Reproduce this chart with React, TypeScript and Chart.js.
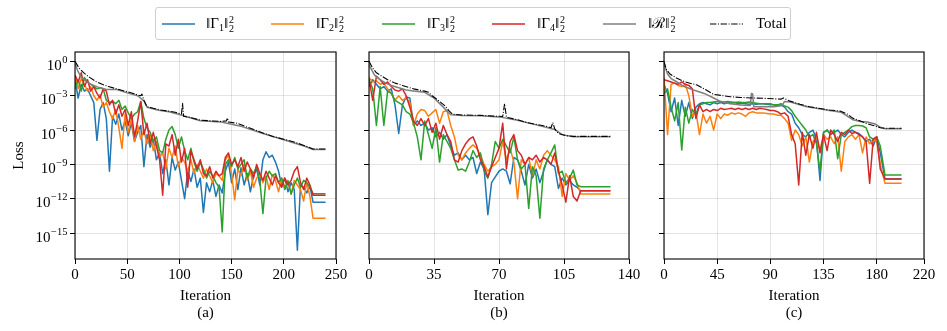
import React, { useEffect, useRef } from 'react';
import { Chart, registerables } from 'chart.js';
Chart.register(...registerables);

const FONT = '"Liberation Serif", "Times New Roman", "DejaVu Serif", serif';
const COLORS = { g1: '#1f77b4', g2: '#ff7f0e', g3: '#2ca02c', g4: '#d62728', r: '#7f7f7f', total: '#000000' };

// All loss values below are stored as log10(loss).
const Y_MIN_EXP = -17.27;
const Y_MAX_EXP = 0.82;
const Y_TICK_EXPS = [0, -3, -6, -9, -12, -15];

// ---------------- Panel (a) ----------------
const aIter = [0, 3, 6, 9, 12, 15, 18, 21, 24, 27, 30, 33, 36, 39, 42, 45, 48, 51, 54, 57, 60, 63, 66, 69, 72, 75, 78, 81, 84, 87,
  90, 93, 96, 99, 102, 105, 108, 111, 114, 117, 120, 123, 126, 129, 132, 135, 138, 141, 144, 147, 150, 153, 156, 159, 162, 165, 168, 171, 174, 177,
  180, 183, 186, 189, 192, 195, 198, 201, 204, 207, 210, 213, 216, 219, 222, 225, 228, 240];
const aG1 = [-1.6, -3.2, -2.0, -2.6, -2.4, -3.0, -3.6, -6.9, -4.2, -3.6,
  -5.0, -9.6, -4.8, -5.5, -4.6, -6.0, -5.2, -6.5, -5.4, -7.0,
  -6.2, -5.6, -9.2, -6.4, -7.5, -6.8, -8.6, -8.0, -9.8, -8.6,
  -10.8, -8.4, -9.5, -8.8, -10.4, -12.0, -9.6, -10.5, -9.4, -11.0,
  -10.2, -13.2, -10.6, -11.4, -10.4, -11.8, -10.8, -11.5, -9.6, -8.8,
  -10.6, -9.4, -11.2, -9.3, -10.8, -9.8, -11.4, -10.0, -9.4, -10.8,
  -8.6, -7.9, -8.4, -8.2, -8.8, -9.6, -10.9, -10.2, -11.4, -10.6,
  -11.2, -16.5, -10.8, -11.0, -11.5, -10.9, -12.3, -12.3];
const aG2 = [-1.2, -2.4, -1.5, -2.0, -2.6, -2.2, -3.0, -3.4, -2.9, -4.0,
  -3.6, -4.4, -5.0, -4.2, -5.8, -7.6, -4.6, -6.2, -5.0, -7.0,
  -5.6, -6.8, -6.0, -7.2, -6.4, -7.8, -7.0, -8.4, -8.0, -9.4,
  -7.6, -8.4, -7.4, -9.2, -8.4, -8.8, -9.6, -8.6, -9.8, -9.0,
  -9.6, -10.2, -9.4, -10.0, -10.6, -9.8, -10.0, -10.4, -8.6, -8.2,
  -9.8, -12.1, -9.4, -10.0, -9.0, -10.4, -9.6, -11.0, -10.2, -9.8,
  -10.6, -10.0, -11.2, -9.9, -10.4, -11.4, -10.2, -11.0, -10.6, -11.6,
  -10.4, -10.8, -11.2, -12.2, -10.6, -11.8, -13.7, -13.7];
const aG3 = [-2.4, -1.6, -2.6, -1.4, -1.8, -2.0, -2.2, -2.4, -2.3, -2.4,
  -3.4, -3.6, -3.5, -3.7, -3.4, -4.2, -3.9, -4.5, -5.0, -4.6,
  -4.4, -3.5, -5.0, -5.8, -6.2, -7.0, -6.6, -7.8, -8.0, -6.8,
  -6.0, -5.7, -6.4, -7.6, -6.6, -7.8, -8.6, -7.6, -8.8, -9.6,
  -8.8, -9.4, -10.2, -9.6, -10.0, -10.6, -11.0, -14.9, -9.0, -8.6,
  -9.2, -8.4, -9.4, -9.0, -8.6, -10.2, -9.4, -9.8, -9.2, -10.4,
  -13.3, -10.2, -9.6, -10.0, -9.8, -10.6, -10.2, -11.2, -10.4, -11.6,
  -10.8, -10.2, -11.0, -10.4, -10.6, -11.0, -11.56, -11.56];
const aG4 = [-1.2, -1.8, -1.0, -2.2, -1.6, -2.6, -2.2, -2.8, -3.2, -2.4,
  -2.6, -3.8, -3.4, -4.6, -3.8, -4.8, -4.2, -5.6, -4.4, -6.6,
  -5.2, -3.5, -6.4, -5.4, -7.2, -6.2, -7.4, -8.6, -11.7, -7.2,
  -7.4, -6.4, -8.2, -6.8, -8.8, -7.6, -11.0, -7.8, -8.6, -9.4,
  -8.6, -9.8, -10.0, -9.2, -10.2, -9.6, -10.0, -9.8, -8.4, -8.0,
  -9.0, -8.6, -9.2, -8.4, -9.6, -8.8, -9.4, -10.2, -9.0, -9.8,
  -10.4, -9.6, -10.2, -10.8, -10.0, -10.6, -11.0, -10.2, -10.8, -10.4,
  -9.6, -9.2, -10.6, -11.2, -10.2, -10.8, -11.7, -11.7];
const aRIter = [0, 3, 6, 10, 14, 18, 22, 26, 30, 40, 50, 60, 66, 69, 80, 90, 100, 120, 140, 160, 180, 200, 220, 228, 240];
const aR = [-0.2, -0.9, -1.4, -1.7, -1.95, -2.1, -2.25, -2.35, -2.45, -2.45, -2.75, -3.0, -3.45, -4.0, -4.27, -4.4, -4.65, -5.18, -5.3, -5.7, -6.3, -6.85, -7.42, -7.7, -7.7];
const aTotIter = [0, 4, 9, 14, 20, 26, 32, 40, 48, 56, 60, 63, 64, 66, 69, 75, 82, 90, 96, 102, 103, 104, 110, 120, 130, 140, 145, 146, 147, 155, 168, 180, 190, 200, 209, 218, 224, 228, 240];
const aTot = [0, -0.6, -1.05, -1.4, -1.75, -2.0, -2.2, -2.4, -2.6, -2.8, -2.94, -3.0, -2.85, -3.4, -3.96, -4.1, -4.25, -4.35, -4.45, -4.6, -3.67, -4.8, -4.9, -5.13, -5.2, -5.25, -5.2, -4.95, -5.3, -5.4, -5.85, -6.25, -6.58, -6.8, -7.02, -7.3, -7.5, -7.66, -7.66];
const aXTicks = [0, 50, 100, 150, 200, 250];

// ---------------- Panel (b) ----------------
const bIter = [0, 2, 4, 6, 8, 10, 12, 14, 16, 18, 20, 22, 24, 26, 28, 30, 32, 34, 36, 38, 40, 42, 44, 46, 48, 50, 52, 54, 56, 58,
  60, 62, 64, 66, 68, 70, 72, 74, 76, 78, 80, 82, 84, 86, 88, 90, 92, 94, 96, 98, 100, 102, 104, 106, 108, 110, 112, 114, 130];
const bG1 = [-2.2, -1.6, -2.0, -2.4, -2.2, -2.6, -2.4, -3.8, -6.3, -3.8,
  -3.1, -3.2, -5.6, -5.2, -5.6, -5.4, -6.0, -5.8, -6.6, -6.2,
  -6.8, -6.4, -7.4, -8.2, -8.0, -8.6, -8.2, -8.6, -8.4, -9.8,
  -8.8, -9.4, -13.4, -10.6, -10.1, -9.6, -9.4, -9.6, -10.7, -8.4,
  -8.6, -9.6, -10.8, -9.0, -10.2, -9.4, -10.6, -9.6, -8.6, -9.0,
  -9.2, -11.1, -10.2, -10.8, -10.4, -10.8, -11.0, -11.3, -11.3];
const bG2 = [-1.4, -1.8, -1.7, -2.0, -1.9, -2.4, -2.8, -3.4, -3.0, -3.4,
  -3.2, -3.6, -5.6, -4.6, -4.2, -4.3, -4.8, -4.5, -4.2, -5.4,
  -4.4, -4.3, -5.6, -6.6, -8.2, -8.6, -8.0, -7.6, -7.3, -7.6,
  -8.2, -9.0, -9.6, -9.2, -9.0, -8.6, -7.0, -8.6, -7.6, -8.8,
  -12.0, -8.6, -9.0, -8.4, -10.0, -8.6, -9.4, -8.2, -7.8, -8.2,
  -8.6, -9.2, -11.8, -9.8, -10.4, -10.0, -10.6, -11.6, -11.6];
const bG3 = [-1.6, -2.4, -5.6, -2.2, -5.6, -2.6, -2.8, -3.4, -3.6, -3.8,
  -4.4, -4.6, -5.4, -6.6, -8.6, -5.2, -6.4, -7.6, -5.8, -8.8,
  -6.4, -7.0, -7.6, -8.6, -9.5, -9.4, -9.6, -8.8, -7.8, -8.4,
  -8.0, -9.6, -10.2, -9.0, -7.0, -7.6, -6.8, -7.4, -8.0, -6.6,
  -8.6, -9.4, -9.0, -12.85, -9.2, -10.0, -13.7, -9.4, -8.6, -8.0,
  -7.3, -9.8, -9.6, -10.6, -10.2, -9.5, -10.8, -10.95, -10.95];
const bG4 = [-1.5, -3.4, -1.3, -1.6, -2.0, -1.8, -2.2, -2.5, -2.6, -2.4,
  -3.0, -4.0, -5.2, -5.6, -5.0, -5.6, -5.0, -6.2, -5.4, -6.8,
  -5.6, -6.4, -7.0, -8.6, -8.8, -7.8, -7.2, -6.8, -6.6, -7.4,
  -8.6, -9.2, -10.1, -9.2, -8.4, -7.6, -5.4, -9.4, -7.0, -6.4,
  -7.8, -8.2, -9.0, -8.4, -8.6, -8.2, -8.8, -8.4, -8.6, -9.0,
  -8.0, -9.6, -10.8, -12.3, -10.0, -11.8, -12.2, -11.3, -11.3];
const bRIter = [0, 3, 6, 9, 12, 16, 20, 25, 30, 35, 40, 44, 50, 60, 70, 80, 90, 100, 104, 110, 120, 130];
const bR = [-0.3, -1.2, -1.6, -1.9, -2.1, -2.3, -2.5, -2.6, -2.7, -3.2, -4.0, -4.66, -4.72, -4.76, -4.85, -5.15, -5.55, -5.95, -6.4, -6.58, -6.58, -6.58];
const bTotIter = [0, 2, 4, 7, 10, 14, 18, 24, 30, 32, 34, 38, 41, 43, 45, 50, 60, 70, 72, 73, 74, 80, 85, 90, 96, 98, 99, 100, 102, 106, 110, 120, 130];
const bTot = [0, -0.6, -1.0, -1.3, -1.6, -1.9, -2.1, -2.4, -2.6, -2.7, -3.0, -3.5, -3.9, -4.3, -4.62, -4.68, -4.72, -4.8, -4.82, -3.7, -4.88, -5.1, -5.35, -5.5, -5.7, -5.8, -5.35, -5.9, -6.3, -6.5, -6.55, -6.55, -6.55];
const bXTicks = [0, 35, 70, 105, 140];

// ---------------- Panel (c) ----------------
const cIter = [0, 3, 6, 9, 12, 15, 18, 21, 24, 27, 30, 33, 36, 39, 42, 45, 48, 51, 54, 57, 60, 63, 66, 69, 72, 75, 78, 81, 84, 87,
  90, 93, 96, 99, 102, 105, 108, 111, 114, 117, 120, 123, 126, 129, 132, 135, 138, 141, 144, 147, 150, 153, 156, 159, 162, 165, 168, 171, 174, 177,
  180, 183, 187, 201];
const cG1 = [-2.0, -2.8, -4.4, -3.2, -5.6, -3.4, -4.8, -3.6, -5.0, -4.0,
  -3.7, -3.6, -3.7, -3.8, -3.6, -3.7, -3.6, -3.7, -3.6, -3.65,
  -3.6, -3.7, -3.65, -3.7, -3.75, -3.7, -3.75, -3.7, -3.7, -3.75,
  -3.8, -3.8, -3.9, -3.8, -4.0, -4.4, -4.6, -5.4, -5.8, -6.4,
  -6.6, -6.2, -6.0, -6.8, -10.4, -6.2, -6.0, -6.4, -6.2, -6.0,
  -6.4, -6.6, -6.2, -6.0, -6.2, -6.3, -6.6, -7.0, -6.8, -7.4,
  -6.6, -8.0, -10.28, -10.28];
const cG2 = [-1.4, -6.4, -2.0, -1.9, -2.1, -2.2, -2.0, -3.0, -4.8, -4.4,
  -6.4, -4.6, -5.4, -4.8, -6.0, -4.6, -5.0, -4.6, -4.7, -4.5,
  -4.6, -4.5, -4.6, -4.8, -4.5, -4.4, -4.5, -4.5, -4.5, -4.55,
  -4.6, -4.6, -4.7, -4.7, -5.0, -5.4, -6.9, -6.0, -6.4, -7.4,
  -6.6, -8.8, -7.0, -6.6, -7.8, -6.4, -6.8, -6.6, -7.2, -6.6,
  -9.6, -7.0, -6.6, -6.4, -6.8, -6.4, -8.0, -6.6, -7.2, -6.8,
  -7.0, -9.0, -10.66, -10.66];
const cG3 = [-2.8, -2.4, -4.0, -5.2, -3.6, -7.75, -4.0, -5.4, -4.2, -4.6,
  -3.8, -3.7, -3.6, -3.6, -3.55, -3.5, -3.5, -3.55, -3.5, -3.55,
  -3.6, -3.55, -3.6, -3.6, -3.55, -3.6, -3.65, -3.7, -3.7, -3.7,
  -3.7, -3.8, -3.8, -3.7, -3.9, -4.0, -4.3, -4.8, -5.2, -5.6,
  -6.0, -6.6, -6.4, -7.2, -9.6, -6.2, -6.0, -6.4, -6.0, -8.5,
  -6.4, -6.2, -6.0, -5.7, -5.6, -5.6, -5.65, -5.8, -6.6, -6.8,
  -6.6, -7.4, -9.93, -9.93];
const cG4 = [-1.6, -1.7, -1.8, -1.9, -2.0, -1.8, -2.0, -2.1, -2.4, -5.0,
  -3.8, -4.4, -4.2, -4.4, -4.2, -4.3, -4.1, -4.2, -4.15, -4.1,
  -4.2, -4.1, -4.2, -4.1, -4.2, -4.1, -4.2, -4.1, -4.15, -4.2,
  -4.3, -4.3, -4.4, -4.6, -4.5, -4.8, -6.4, -7.2, -10.8, -6.2,
  -8.2, -6.4, -7.6, -6.2, -8.0, -6.4, -7.8, -6.0, -6.4, -7.0,
  -6.2, -6.4, -6.0, -6.3, -6.2, -6.4, -6.6, -7.0, -10.66, -6.8,
  -6.6, -9.4, -10.28, -10.28];
const cRIter = [0, 3, 6, 11, 17, 25, 34, 42, 48, 56, 65, 73, 74, 75, 76, 85, 93, 100, 102, 107, 120, 140, 150, 160, 166, 172, 178, 183, 187, 201];
const cR = [-0.2, -1.1, -1.5, -1.8, -2.2, -2.5, -2.8, -3.2, -3.52, -3.7, -3.81, -3.85, -2.8, -2.85, -3.96, -3.96, -3.96, -3.85, -3.5, -3.55, -3.95, -4.3, -4.45, -5.1, -5.25, -5.3, -5.45, -5.75, -5.88, -5.88];
const cTotIter = [0, 2, 5, 11, 18, 28, 35, 42, 50, 56, 65, 75, 85, 95, 99, 101, 106, 115, 123, 131, 140, 149, 155, 160, 166, 171, 177, 183, 187, 201];
const cTot = [0, -0.7, -1.1, -1.48, -1.8, -2.07, -2.45, -2.88, -3.0, -3.09, -3.15, -3.2, -3.23, -3.28, -3.3, -3.2, -3.45, -3.75, -3.96, -4.1, -4.25, -4.34, -4.6, -4.98, -5.2, -5.42, -5.6, -5.8, -5.85, -5.85];
const cXTicks = [0, 45, 90, 135, 180, 220];

type PanelDef = {
  iter: number[]; g1: number[]; g2: number[]; g3: number[]; g4: number[];
  rIter: number[]; r: number[]; totIter: number[]; tot: number[];
  xMax: number; xTicks: number[]; tag: string;
  padLeft: number; yWidth: number; padRight: number; yLabels: boolean;
};

const PANELS: PanelDef[] = [
  { iter: aIter, g1: aG1, g2: aG2, g3: aG3, g4: aG4, rIter: aRIter, r: aR, totIter: aTotIter, tot: aTot,
    xMax: 250, xTicks: aXTicks, tag: '(a)', padLeft: 0, yWidth: 75, padRight: 611, yLabels: true },
  { iter: bIter, g1: bG1, g2: bG2, g3: bG3, g4: bG4, rIter: bRIter, r: bR, totIter: bTotIter, tot: bTot,
    xMax: 140, xTicks: bXTicks, tag: '(b)', padLeft: 359, yWidth: 10, padRight: 318, yLabels: false },
  { iter: cIter, g1: cG1, g2: cG2, g3: cG3, g4: cG4, rIter: cRIter, r: cR, totIter: cTotIter, tot: cTot,
    xMax: 220, xTicks: cXTicks, tag: '(c)', padLeft: 654, yWidth: 10, padRight: 23, yLabels: false },
];

const toPoints = (xs: number[], logs: number[]) => xs.map((x, i) => ({ x, y: Math.pow(10, logs[i]) }));

const GRID = {
  color: 'rgba(176,176,176,0.35)', lineWidth: 1, tickColor: '#000', tickLength: 5, tickWidth: 1, drawTicks: true,
};

const framePlugin = {
  id: 'frame',
  afterDatasetsDraw(chart: any) {
    const { ctx, chartArea: a } = chart;
    ctx.save();
    ctx.strokeStyle = '#000';
    ctx.lineWidth = 1.1;
    ctx.strokeRect(a.left, a.top, a.right - a.left, a.bottom - a.top);
    ctx.restore();
  },
};

const yLabelPlugin = {
  id: 'ylabels',
  afterDraw(chart: any) {
    const { ctx, chartArea: a } = chart;
    const ys = chart.scales.y;
    ctx.save();
    ctx.fillStyle = '#000';
    ctx.textAlign = 'left';
    ctx.textBaseline = 'alphabetic';
    const right = a.left - 8;
    for (const e of Y_TICK_EXPS) {
      const y = ys.getPixelForValue(Math.pow(10, e));
      const expStr = e === 0 ? '0' : '\u2212' + Math.abs(e);
      ctx.font = `10.5px ${FONT}`;
      const we = ctx.measureText(expStr).width;
      ctx.font = `15px ${FONT}`;
      const wb = ctx.measureText('10').width;
      ctx.fillText('10', right - we - wb, y + 8.5);
      ctx.font = `10.5px ${FONT}`;
      ctx.fillText(expStr, right - we + 0.5, y + 1.5);
    }
    ctx.translate(19, (a.top + a.bottom) / 2);
    ctx.rotate(-Math.PI / 2);
    ctx.textAlign = 'center';
    ctx.textBaseline = 'middle';
    ctx.font = `15px ${FONT}`;
    ctx.fillText('Loss', 0, 0);
    ctx.restore();
  },
};

function buildConfig(p: PanelDef): any {
  const line = (label: string, data: any[], color: string, order: number, extra: any = {}) => ({
    label, data, borderColor: color, backgroundColor: color, borderWidth: 1.5, pointRadius: 0,
    tension: 0, fill: false, order, borderJoinStyle: 'round', ...extra,
  });
  return {
    type: 'line',
    data: {
      datasets: [
        line('Γ1', toPoints(p.iter, p.g1), COLORS.g1, 6),
        line('Γ2', toPoints(p.iter, p.g2), COLORS.g2, 5),
        line('Γ3', toPoints(p.iter, p.g3), COLORS.g3, 4),
        line('Γ4', toPoints(p.iter, p.g4), COLORS.g4, 3),
        line('R', toPoints(p.rIter, p.r), COLORS.r, 2),
        line('Total', toPoints(p.totIter, p.tot), COLORS.total, 1, { borderWidth: 1.1, borderDash: [6.4, 1.6, 1, 1.6] }),
      ],
    },
    options: {
      animation: false,
      responsive: false,
      devicePixelRatio: 1,
      parsing: true,
      layout: { padding: { left: p.padLeft, right: p.padRight, top: 52, bottom: 0 } },
      plugins: { legend: { display: false }, tooltip: { enabled: false } },
      events: [],
      scales: {
        x: {
          type: 'linear', min: 0, max: p.xMax,
          afterBuildTicks: (s: any) => { s.ticks = p.xTicks.map((v) => ({ value: v })); },
          afterFit: (s: any) => { s.height = 72; },
          grid: GRID,
          border: { display: false },
          ticks: { font: { family: FONT, size: 15 }, color: '#000', padding: 2, maxRotation: 0, autoSkip: false,
            callback: (v: any) => String(v) },
          title: { display: true, text: ['Iteration', p.tag], color: '#000',
            font: { family: FONT, size: 15, lineHeight: 17 / 15 }, padding: { top: 0, bottom: 9.5 } },
        },
        y: {
          type: 'logarithmic', min: Math.pow(10, Y_MIN_EXP), max: Math.pow(10, Y_MAX_EXP),
          afterBuildTicks: (s: any) => { s.ticks = Y_TICK_EXPS.map((e) => ({ value: Math.pow(10, e) })); },
          afterFit: (s: any) => { s.width = p.yWidth; },
          grid: GRID,
          border: { display: false },
          ticks: { callback: () => '', autoSkip: false, padding: 0 },
        },
      },
    },
    plugins: p.yLabels ? [framePlugin, yLabelPlugin] : [framePlugin],
  };
}

function Panel({ def }: { def: PanelDef }) {
  const ref = useRef<HTMLCanvasElement>(null);
  useEffect(() => {
    const chart = new Chart(ref.current as HTMLCanvasElement, buildConfig(def));
    return () => chart.destroy();
  }, [def]);
  return <canvas ref={ref} width={947} height={331}
    style={{ position: 'absolute', left: 0, top: 0, width: 947, height: 331 }} />;
}

const scriptStack = (
  <span style={{ display: 'inline-flex', flexDirection: 'column', fontSize: 10, lineHeight: '9px', verticalAlign: 'middle', marginLeft: 1, position: 'relative', top: -1 }}>
    <span>2</span><span>2</span>
  </span>
);

function NormLabel({ sym, sub }: { sym: string; sub?: string }) {
  return (
    <span style={{ whiteSpace: 'nowrap' }}>
      {'\u2016'}{sym}{sub ? <sub style={{ fontSize: 10, verticalAlign: '-3px', lineHeight: 0 }}>{sub}</sub> : null}{'\u2016'}{scriptStack}
    </span>
  );
}

const LEGEND_ITEMS = [
  { color: COLORS.g1, dash: '', label: <NormLabel sym={'\u0393'} sub="1" />, lineX: 162, textX: 206 },
  { color: COLORS.g2, dash: '', label: <NormLabel sym={'\u0393'} sub="2" />, lineX: 271, textX: 316 },
  { color: COLORS.g3, dash: '', label: <NormLabel sym={'\u0393'} sub="3" />, lineX: 382, textX: 427 },
  { color: COLORS.g4, dash: '', label: <NormLabel sym={'\u0393'} sub="4" />, lineX: 492, textX: 537 },
  { color: COLORS.r, dash: '', label: <NormLabel sym={'\u211B'} />, lineX: 603, textX: 648 },
  { color: COLORS.total, dash: '6.4,1.6,1,1.6', label: <span>Total</span>, lineX: 710, textX: 756 },
];

export default function App() {
  return (
    <div style={{ position: 'absolute', left: 0, top: 0, width: 947, height: 331, background: '#fff', overflow: 'hidden', fontFamily: FONT }}>
      {PANELS.map((d, i) => <Panel key={i} def={d} />)}
      <div style={{ position: 'absolute', left: 155, top: 7, width: 636, height: 33, boxSizing: 'border-box',
        border: '1px solid #cfcfcf', borderRadius: 3, background: 'rgba(255,255,255,0.8)' }} />
      {LEGEND_ITEMS.map((it, i) => (
        <React.Fragment key={i}>
          <svg width={33} height={4} style={{ position: 'absolute', left: it.lineX, top: 21.5 }}>
            <line x1={0} y1={2} x2={33} y2={2} stroke={it.color} strokeWidth={it.dash ? 1.1 : 1.5} strokeDasharray={it.dash || undefined} />
          </svg>
          <div style={{ position: 'absolute', left: it.textX, top: 13, height: 20, lineHeight: '20px', fontSize: 15, color: '#000' }}>
            {it.label}
          </div>
        </React.Fragment>
      ))}
    </div>
  );
}
